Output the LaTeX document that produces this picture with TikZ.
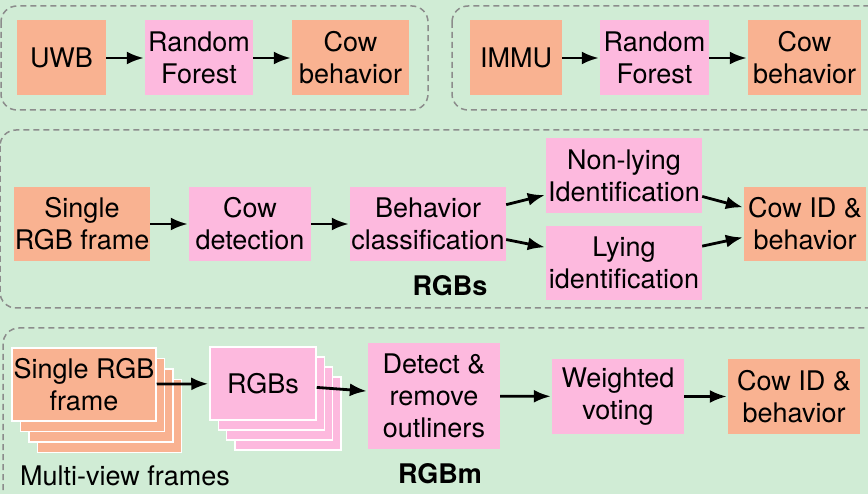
\documentclass[tikz,border=0pt]{standalone}
\usepackage{fontspec}
\setmainfont{TeX Gyre Heros}
\usetikzlibrary{arrows.meta}
\usepackage{xcolor}
\definecolor{bggreen}{HTML}{D0ECD5}
\definecolor{inorange}{HTML}{F9B291}
\definecolor{stepPink}{HTML}{FDB9DE}
\definecolor{dashgray}{HTML}{8C8C8C}
\tikzset{
    block/.style={
        align=center,
        inner sep=0pt,
        minimum height=75pt,
        font=\fontsize{27}{32}\selectfont
    },
    inbox/.style={block, fill=inorange},
    procbox/.style={block, fill=stepPink},
    stacked/.style={draw=white, line width=1.5pt},
    group/.style={
        draw=dashgray,
        line width=1.5pt,
        dash pattern=on 6pt off 4pt,
        rounded corners=16pt
    },
    flow/.style={
        -{Latex[length=17pt, width=13pt]},
        line width=2.8pt,
        shorten >=1pt
    }
}

\begin{document}
\begin{tikzpicture}[x=1pt, y=-1pt]
    \useasboundingbox (0,0) rectangle (868,494);
    \fill[bggreen] (0,0) rectangle (868,494);
    \clip (0,0) rectangle (868,494);

    % Groups
    \draw[group] (1,6) rectangle (428,110);
    \draw[group] (452,6) rectangle (890,110);
    \draw[group] (0,130) rectangle (890,308);
    \draw[group] (3,328) rectangle (890,520);

    % Sensor pipelines
    \node[inbox, minimum width=89pt] (uwb) at (61.5,58) {UWB};
    \node[procbox, minimum width=108pt] (rfa) at (199,58) {Random\\Forest};
    \node[inbox, minimum width=117pt] (cowa) at (350.5,58) {Cow\\behavior};
    \node[inbox, minimum width=92pt] (immu) at (516,58) {IMMU};
    \node[procbox, minimum width=109pt] (rfb) at (654.5,58) {Random\\Forest};
    \node[inbox, minimum width=113pt] (cowb) at (804.5,58) {Cow\\behavior};

    % RGBs pipeline
    \node[inbox, minimum width=136pt, minimum height=74pt] (srgb) at (82,224) {Single\\RGB frame};
    \node[procbox, minimum width=122pt, minimum height=74pt] (det) at (250,224) {Cow\\detection};
    \node[procbox, minimum width=156pt, minimum height=74pt] (bcls) at (428,224) {Behavior\\classification};
    \node[procbox, minimum width=156pt] (nonly) at (624,175.5) {Non-lying\\Identification};
    \node[procbox, minimum width=156pt, minimum height=74pt] (lying) at (624,263) {Lying\\identification};
    \node[inbox, minimum width=122pt, minimum height=74pt] (cidm) at (805,224) {Cow ID \&\\behavior};
    \node[block, minimum height=0pt, font=\fontsize{27}{32}\selectfont\bfseries] (lblrgbs) at (450,286) {RGBs};

    % RGBm pipeline
    \foreach \i in {3,2,1}
        \node[inbox, stacked, minimum width=144pt, minimum height=73pt] (msrgb\i) at (84+8.5*\i,384.5+10.5*\i) {};
    \node[inbox, stacked, minimum width=144pt, minimum height=73pt] (msrgb) at (84,384.5) {Single RGB\\frame};
    \foreach \i in {3,2,1}
        \node[procbox, stacked, minimum width=106pt, minimum height=73pt] (rgbs\i) at (263+8.3*\i,383.5+10*\i) {};
    \node[procbox, stacked, minimum width=106pt, minimum height=73pt] (rgbs) at (263,383.5) {RGBs};
    \node[procbox, minimum width=132pt, minimum height=106pt] (outl) at (434,396) {Detect \&\\remove\\outliners};
    \node[procbox, minimum width=132pt] (vote) at (618,396.5) {Weighted\\voting};
    \node[inbox, minimum width=132pt] (cidb) at (794,396.5) {Cow ID \&\\behavior};
    \node[block, minimum height=0pt] (lblmv) at (125,476) {Multi-view frames};
    \node[block, minimum height=0pt, font=\fontsize{27}{32}\selectfont\bfseries] (lblrgbm) at (440,474) {RGBm};

    % Edges
    \draw[flow] (uwb) -- (rfa);
    \draw[flow] (rfa) -- (cowa);
    \draw[flow] (immu) -- (rfb);
    \draw[flow] (rfb) -- (cowb);
    \draw[flow] (srgb) -- (det);
    \draw[flow] (det) -- (bcls);
    \draw[flow] (bcls) -- (nonly);
    \draw[flow] (bcls) -- (lying);
    \draw[flow] (nonly) -- (cidm);
    \draw[flow] (lying) -- (cidm);
    \draw[flow] (msrgb) -- (rgbs);
    \draw[flow] (rgbs) -- (outl);
    \draw[flow] (outl) -- (vote);
    \draw[flow] (vote) -- (cidb);
\end{tikzpicture}
\end{document}
